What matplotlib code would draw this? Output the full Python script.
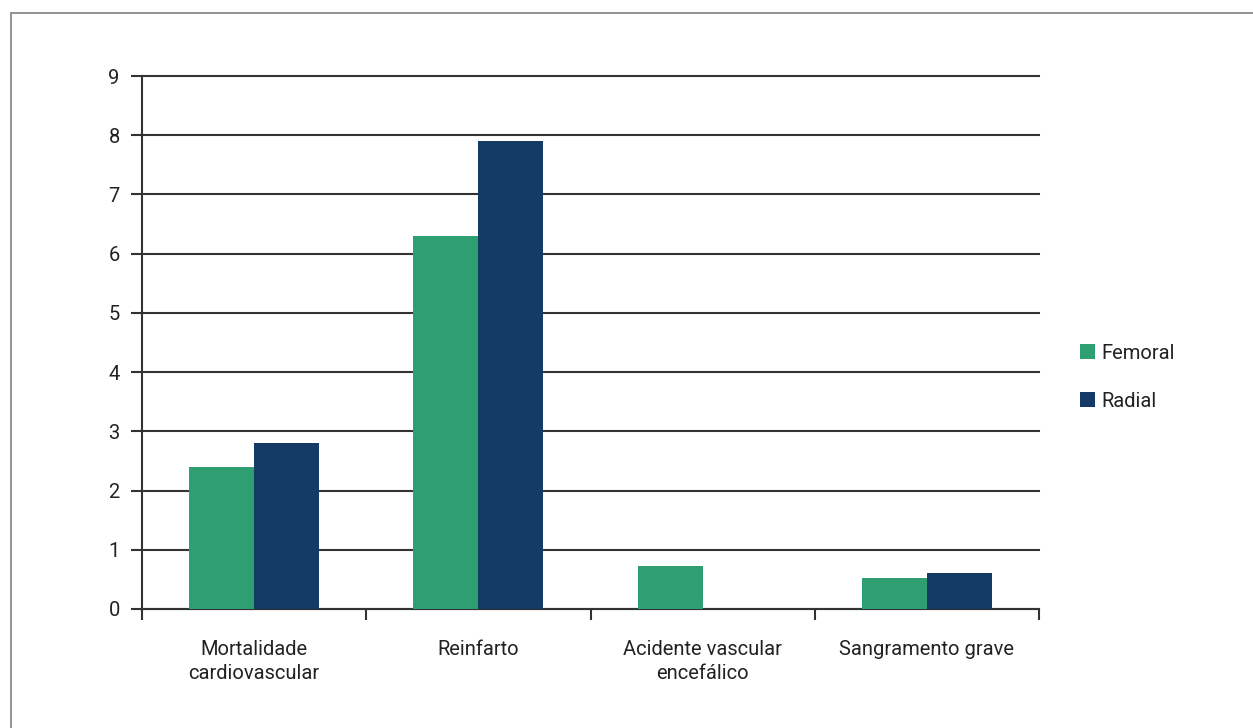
import matplotlib.pyplot as plt
import numpy as np
from matplotlib.patches import Rectangle

categories = ['Mortalidade\ncardiovascular', 'Reinfarto',
              'Acidente vascular\nencefálico', 'Sangramento grave']
femoral = [2.4, 6.3, 0.73, 0.52]
radial = [2.8, 7.9, 0.0, 0.61]
yticks = list(range(10))

plt.rcParams['font.family'] = ['Roboto', 'DejaVu Sans']
fs = 14.5

W, H = 1253, 728
fig = plt.figure(figsize=(W / 100, H / 100), dpi=100)
ax = fig.add_axes([142 / W, 1 - 609 / H, (1039 - 142) / W, (609 - 76) / H])

# outer frame of the figure
fig.patches.append(Rectangle((11 / W, -0.01), 1.1, 1 - 13 / H + 0.01,
                             transform=fig.transFigure, fill=False,
                             edgecolor='#8a8a8a', linewidth=1.3))

x = np.arange(len(categories))
w = 0.29
ax.bar(x - w / 2, femoral, width=w, color='#2f9e70', label='Femoral', zorder=3)
ax.bar(x + w / 2, radial, width=w, color='#163a66', label='Radial', zorder=3)

ax.set_xlim(-0.5, len(categories) - 0.5)
ax.set_ylim(0, 9)
ax.set_yticks(yticks)
ax.yaxis.grid(True, color='#333333', linewidth=1.5, zorder=0)
for gl in ax.get_ygridlines():
    gl.set_clip_on(False)
ax.tick_params(axis='y', length=8, width=1.5, color='#333333',
               labelsize=fs, labelcolor='#222222', pad=8)

# category labels between boundary ticks
ax.set_xticks(np.arange(-0.5, len(categories)))
ax.set_xticklabels([])
ax.set_xticks(x, minor=True)
ax.set_xticklabels(categories, minor=True, fontsize=fs, color='#222222',
                   va='top', linespacing=1.38)
ax.tick_params(axis='x', which='major', length=8, width=1.5, color='#333333',
               direction='out')
ax.tick_params(axis='x', which='minor', length=0, pad=22)

for s in ['top', 'right']:
    ax.spines[s].set_visible(False)
for s in ['left', 'bottom']:
    ax.spines[s].set_color('#333333')
    ax.spines[s].set_linewidth(1.5)

leg = ax.legend(loc='center left', bbox_to_anchor=(1.037, 0.435), frameon=False,
                fontsize=fs, handlelength=0.75, handleheight=0.75,
                handletextpad=0.3, labelspacing=1.45, borderaxespad=0)
for t in leg.get_texts():
    t.set_color('#222222')

fig.savefig('out.png', dpi=100)
